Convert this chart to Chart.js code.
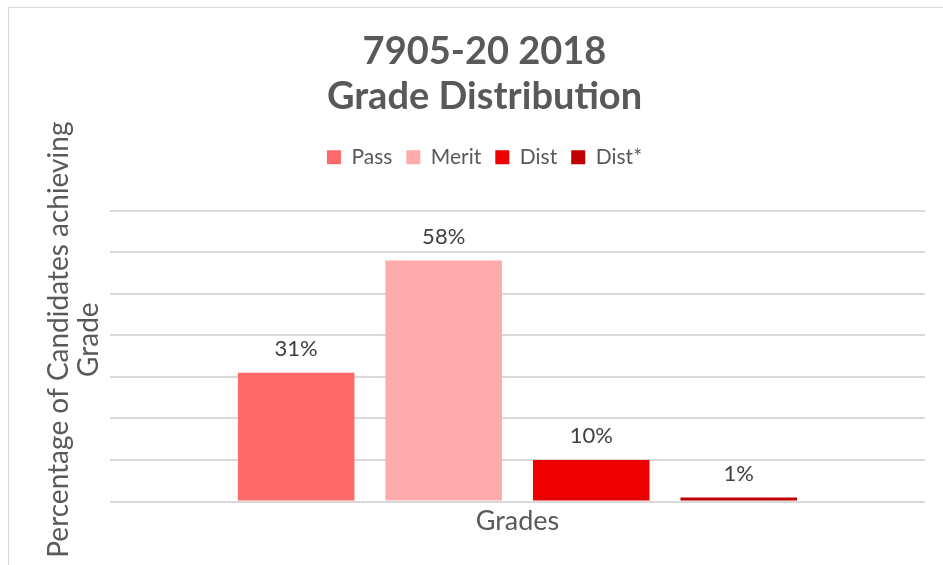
<!DOCTYPE html>
<html>
<head>
<meta charset="utf-8">
<script src="https://cdn.jsdelivr.net/npm/chart.js@4"></script>
<style>
  html, body { margin: 0; padding: 0; background: #fff; overflow: hidden; }
  #frame {
    position: fixed; left: 8px; top: 7px;
    width: 945px; height: 570px;
    border: 1px solid #d9d9d9; box-sizing: border-box;
  }
  #chartGrades { position: fixed; left: 9px; top: 8px; }
</style>
</head>
<body>
<div id="frame"></div>
<canvas id="chartGrades" width="934" height="557"></canvas>
<script>
// datos del gráfico
const categories = ['Grades'];
const seriesNames = ['Pass', 'Merit', 'Dist', 'Dist*'];
const seriesValues = [[31], [58], [10], [1]];
const seriesColors = ['#ff6969', '#ffabab', '#ee0000', '#c00000'];
const yGridMax = 70;
const yStep = 10;

const FONT = 'Lato, "Open Sans", sans-serif';

// etiquetas de valor encima de cada barra
const barLabels = {
    id: 'barLabels',
    afterDatasetsDraw(chart) {
        const ctx = chart.ctx;
        ctx.save();
        ctx.font = '22px ' + FONT;
        ctx.fillStyle = '#404040';
        ctx.textAlign = 'center';
        ctx.textBaseline = 'middle';
        chart.data.datasets.forEach((ds, i) => {
            chart.getDatasetMeta(i).data.forEach((bar, j) => {
                ctx.fillText(ds.data[j] + '%', bar.x, bar.y - 24);
            });
        });
        ctx.restore();
    }
};

new Chart(document.getElementById('chartGrades'), {
    type: 'bar',
    data: {
        labels: categories,
        datasets: seriesNames.map((name, i) => ({
            label: name,
            data: seriesValues[i],
            backgroundColor: seriesColors[i],
            borderWidth: 0,
            barPercentage: 0.79,
            categoryPercentage: 0.724
        }))
    },
    options: {
        responsive: false,
        animation: false,
        layout: { padding: { left: 35, right: 18, top: 21, bottom: 25 } },
        scales: {
            x: {
                grid: { display: false, drawTicks: false },
                border: { display: false },
                ticks: { color: '#595959', font: { family: FONT, size: 27 }, padding: 3 }
            },
            y: {
                min: 0,
                max: 77.9,   // deja aire entre la leyenda y la última línea
                ticks: { stepSize: yStep, display: false },
                afterBuildTicks: (axis) => {
                    axis.ticks = axis.ticks.filter(t => t.value <= yGridMax);
                },
                border: { display: false },
                grid: { color: '#d9d9d9', lineWidth: 2, drawTicks: false },
                title: {
                    display: true,
                    text: ['Percentage of Candidates achieving', 'Grade'],
                    color: '#595959',
                    font: { family: FONT, size: 28, lineHeight: 1.07 },
                    padding: { top: 0, bottom: 6 }
                }
            }
        },
        plugins: {
            title: {
                display: true,
                text: ['7905-20 2018', 'Grade Distribution'],
                color: '#595959',
                font: { family: FONT, size: 38, weight: 'bold', lineHeight: 1.18 },
                padding: { top: 0, bottom: 14 }
            },
            legend: {
                position: 'top',
                labels: {
                    color: '#595959',
                    font: { family: FONT, size: 21 },
                    boxWidth: 14,
                    boxHeight: 14,
                    padding: 14
                }
            },
            tooltip: { enabled: false }
        }
    },
    plugins: [barLabels]
});
</script>
</body>
</html>
